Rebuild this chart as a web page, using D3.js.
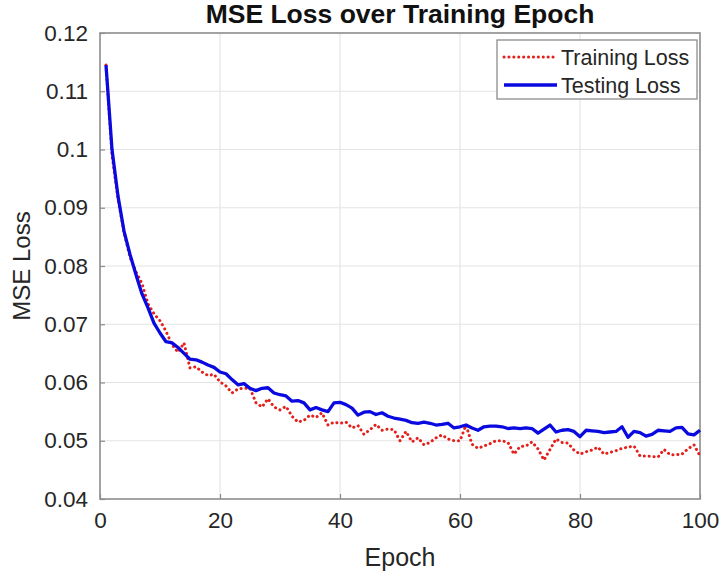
<!DOCTYPE html>
<html>
<head>
<meta charset="utf-8">
<script src="https://cdn.jsdelivr.net/npm/d3@7"></script>
<style>
  body { margin: 0; background: #fff; }
  svg { display: block; font-family: "Liberation Sans", Arial, sans-serif; }
</style>
</head>
<body>
<svg id="chart" width="724" height="577"></svg>
<script>
const epochs = d3.range(1, 101);
const trainingLoss = [
  0.1145, 0.0990, 0.0915, 0.0858, 0.0815, 0.0790, 0.0770, 0.0735, 0.0718, 0.0706,
  0.0688, 0.0665, 0.0652, 0.0668, 0.0625, 0.0627, 0.0618, 0.0612, 0.0614, 0.0601,
  0.0594, 0.0582, 0.0589, 0.0590, 0.0590, 0.0565, 0.0558, 0.0572, 0.0558, 0.0553,
  0.0559, 0.0542, 0.0532, 0.0535, 0.0544, 0.0540, 0.0548, 0.0527, 0.0532, 0.0530,
  0.0532, 0.0522, 0.0526, 0.0511, 0.0519, 0.0528, 0.0518, 0.0520, 0.0519, 0.0500,
  0.0516, 0.0498, 0.0505, 0.0493, 0.0497, 0.0505, 0.0510, 0.0503, 0.0500, 0.0500,
  0.0527, 0.0494, 0.0487, 0.0491, 0.0495, 0.0500, 0.0500, 0.0497, 0.0477, 0.0490,
  0.0491, 0.0498, 0.0486, 0.0467, 0.0485, 0.0503, 0.0497, 0.0496, 0.0484, 0.0477,
  0.0481, 0.0484, 0.0489, 0.0477, 0.0480, 0.0483, 0.0487, 0.0489, 0.0491, 0.0474,
  0.0474, 0.0473, 0.0472, 0.0485, 0.0476, 0.0476, 0.0477, 0.0486, 0.0493, 0.0474
];
const testingLoss = [
  0.1145, 0.1000, 0.0920, 0.0860, 0.0820, 0.0785, 0.0752, 0.0728, 0.0702, 0.0685,
  0.0670, 0.0668, 0.0660, 0.0650, 0.0640, 0.0639, 0.0635, 0.0630, 0.0626, 0.0618,
  0.0615, 0.0605, 0.0596, 0.0598, 0.0590, 0.0586, 0.0590, 0.0591, 0.0582, 0.0579,
  0.0577, 0.0568, 0.0569, 0.0565, 0.0553, 0.0557, 0.0553, 0.0550, 0.0565, 0.0566,
  0.0562, 0.0556, 0.0544, 0.0549, 0.0550, 0.0545, 0.0548, 0.0542, 0.0539, 0.0537,
  0.0535, 0.0531, 0.0530, 0.0532, 0.0530, 0.0527, 0.0528, 0.0530, 0.0522, 0.0524,
  0.0527, 0.0522, 0.0518, 0.0524, 0.0525, 0.0525, 0.0524, 0.0521, 0.0522, 0.0521,
  0.0522, 0.0521, 0.0513, 0.0520, 0.0527, 0.0515, 0.0518, 0.0519, 0.0516, 0.0507,
  0.0518, 0.0517, 0.0516, 0.0514, 0.0515, 0.0516, 0.0524, 0.0506, 0.0516, 0.0514,
  0.0508, 0.0511, 0.0518, 0.0517, 0.0516, 0.0522, 0.0523, 0.0512, 0.0510, 0.0518
];
const xTicks = [0, 20, 40, 60, 80, 100];
const yTicks = [0.04, 0.05, 0.06, 0.07, 0.08, 0.09, 0.1, 0.11, 0.12];
const yTickLabels = ["0.04", "0.05", "0.06", "0.07", "0.08", "0.09", "0.1", "0.11", "0.12"];
const seriesNames = ["Training Loss", "Testing Loss"];

const svg = d3.select("#chart");
const m = { left: 100, right: 24, top: 33, bottom: 78 };
const W = 724, H = 577;
const x = d3.scaleLinear().domain([0, 100]).range([m.left, W - m.right]);
const y = d3.scaleLinear().domain([0.04, 0.12]).range([H - m.bottom, m.top]);
const axisCol = "#262626";
const boxCol = "#8c8c8c";

// grid
const g = svg.append("g");
g.selectAll(".gx").data(xTicks.slice(1, -1)).join("line")
  .attr("x1", d => x(d)).attr("x2", d => x(d))
  .attr("y1", y.range()[1]).attr("y2", y.range()[0])
  .attr("stroke", "#e4e4e4").attr("stroke-width", 1.2);
g.selectAll(".gy").data(yTicks.slice(1, -1)).join("line")
  .attr("y1", d => y(d)).attr("y2", d => y(d))
  .attr("x1", x.range()[0]).attr("x2", x.range()[1])
  .attr("stroke", "#e4e4e4").attr("stroke-width", 1.2);

// axes
const xAxis = d3.axisBottom(x).tickValues(xTicks).tickSizeInner(-5).tickSizeOuter(0).tickPadding(13);
const yAxis = d3.axisLeft(y).tickValues(yTicks).tickFormat((d, i) => yTickLabels[i]).tickSizeInner(-5).tickSizeOuter(0).tickPadding(12);
const xa = svg.append("g").attr("transform", `translate(0,${y.range()[0]})`).call(xAxis);
const ya = svg.append("g").attr("transform", `translate(${x.range()[0]},0)`).call(yAxis);
[xa, ya].forEach(a => {
  a.select(".domain").remove();
  a.selectAll(".tick line").attr("stroke", boxCol).attr("stroke-width", 1.2);
  a.selectAll(".tick text").attr("fill", axisCol).attr("font-size", 22.5)
    .attr("font-family", "'Liberation Sans', Arial, sans-serif");
});
// box
svg.append("rect")
  .attr("x", x.range()[0]).attr("y", y.range()[1])
  .attr("width", x.range()[1] - x.range()[0]).attr("height", y.range()[0] - y.range()[1])
  .attr("fill", "none").attr("stroke", boxCol).attr("stroke-width", 1.6);

// lines
const line = d3.line().x((d, i) => x(epochs[i])).y(d => y(d));
svg.append("path").datum(trainingLoss).attr("d", line)
  .attr("fill", "none").attr("stroke", "#e3201b").attr("stroke-width", 3)
  .attr("stroke-dasharray", "0.1 4.8").attr("stroke-linecap", "round");
svg.append("path").datum(testingLoss).attr("d", line)
  .attr("fill", "none").attr("stroke", "#0a0ae0").attr("stroke-width", 3.3)
  .attr("stroke-linejoin", "round");

// title & labels
svg.append("text").attr("x", (x.range()[0] + x.range()[1]) / 2).attr("y", 23)
  .attr("text-anchor", "middle").attr("font-weight", "bold").attr("font-size", 26.5)
  .attr("fill", "#111").text("MSE Loss over Training Epoch");
svg.append("text").attr("x", (x.range()[0] + x.range()[1]) / 2).attr("y", 566)
  .attr("text-anchor", "middle").attr("font-size", 25).attr("fill", axisCol).text("Epoch");
svg.append("text").attr("transform", `translate(30,${(y.range()[0] + y.range()[1]) / 2}) rotate(-90)`)
  .attr("text-anchor", "middle").attr("font-size", 24).attr("fill", axisCol).text("MSE Loss");

// legend
const lg = svg.append("g").attr("transform", "translate(497,40)");
lg.append("rect").attr("width", 200).attr("height", 59)
  .attr("fill", "#fff").attr("stroke", boxCol).attr("stroke-width", 1.3);
const styles = [
  { stroke: "#e3201b", w: 3, dash: "0.1 4.8" },
  { stroke: "#0a0ae0", w: 3.3, dash: null }
];
seriesNames.forEach((name, i) => {
  const yy = 17 + i * 28;
  lg.append("line").attr("x1", 7).attr("x2", 60).attr("y1", yy).attr("y2", yy)
    .attr("stroke", styles[i].stroke).attr("stroke-width", styles[i].w)
    .attr("stroke-dasharray", styles[i].dash).attr("stroke-linecap", styles[i].dash ? "round" : "butt");
  lg.append("text").attr("x", 64).attr("y", yy + 7.5).attr("font-size", 21.5)
    .attr("fill", axisCol).text(name);
});
</script>
</body>
</html>
